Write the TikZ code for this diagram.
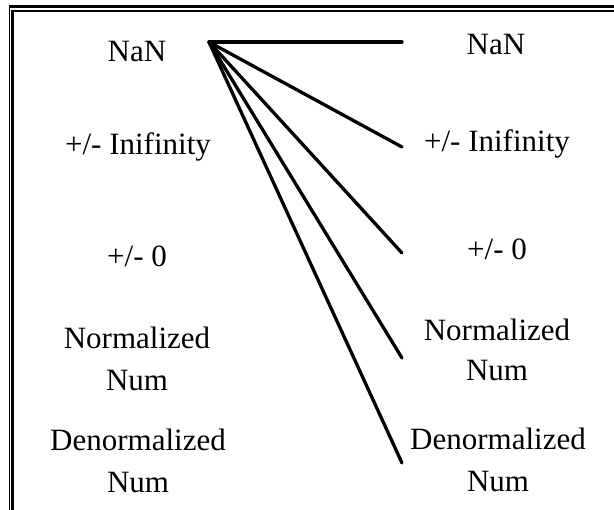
\documentclass[tikz,border=0pt]{standalone}
\usepackage{fontspec}
\setmainfont{Liberation Serif}
\begin{document}
\begin{tikzpicture}[x=1pt,y=-1pt,
  lbl/.style={font=\fontsize{31}{42}\selectfont, align=center, anchor=base, inner sep=0pt},
  conn/.style={line width=3.3pt, line cap=round},
  thickframe/.style={line width=3pt},
  thinframe/.style={line width=1.3pt}]
\useasboundingbox (0,0) rectangle (614,510);
% frame
\draw[thickframe] (9.3,7) -- (614,7);
\draw[thinframe] (9.8,6) -- (9.8,510);
\draw[thickframe] (12.5,10) -- (12.5,510);
\draw[thinframe] (11,11) -- (614,11);
% left labels (base = baseline of last line)
\node[lbl] (lnan) at (137,62) {NaN};
\node[lbl] (linf) at (138,155) {+/- Inifinity};
\node[lbl] (lzero) at (137,267) {+/- 0};
\node[lbl] (lnorm) at (137,391) {Normalized\\Num};
\node[lbl] (lden) at (138,493) {Denormalized\\Num};
% right labels
\node[lbl] (rnan) at (496,55) {NaN};
\node[lbl] (rinf) at (497,152) {+/- Inifinity};
\node[lbl] (rzero) at (497,260) {+/- 0};
\node[lbl, font=\fontsize{31}{40}\selectfont] (rnorm) at (497,381) {Normalized\\Num};
\node[lbl] (rden) at (498,492) {Denormalized\\Num};
% connectors
\coordinate (src) at (209,42);
\coordinate (t1) at (402,42);
\coordinate (t2) at (402,147);
\coordinate (t3) at (402,253);
\coordinate (t4) at (402,358);
\coordinate (t5) at (402,463);
\foreach \t in {t1,t2,t3,t4,t5} \draw[conn] (src) -- (\t);
\end{tikzpicture}
\end{document}
